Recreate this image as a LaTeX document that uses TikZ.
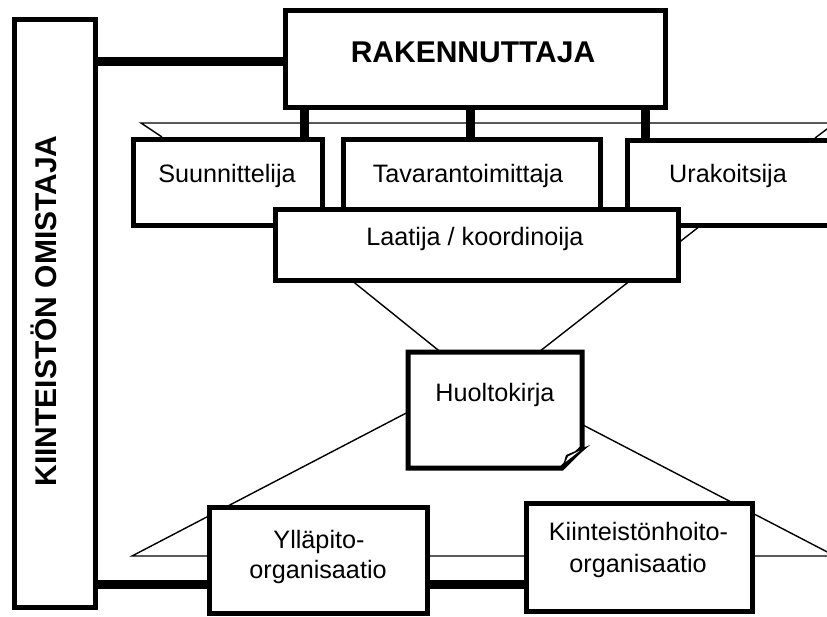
\documentclass[tikz,border=0pt]{standalone}
\usepackage{fontspec}
\setmainfont{Liberation Sans}
\begin{document}
\begin{tikzpicture}[x=1pt,y=-1pt,
  box/.style={draw, line width=5pt, fill=white, inner sep=0pt, outer sep=0pt, rectangle},
  thinline/.style={line width=1.4pt},
  bar/.style={line width=9pt},
  lbl/.style={font=\fontsize{25.2}{30}\selectfont, inner sep=0pt, anchor=base},
  blbl/.style={font=\bfseries\fontsize{30}{36}\selectfont, inner sep=0pt, anchor=base}]
\useasboundingbox (0,0) rectangle (827,616);
\clip (0,0) rectangle (827,616);
% background planes
\draw[thinline] (162,137) -- (141,123) -- (835,123) -- (815,138);
\draw[thinline] (284,226) -- (489,391) -- (700,226);
\draw[thinline] (132,556) -- (483,373) -- (835,556) -- cycle;
% boxes
\node[box, minimum width=81pt, minimum height=588pt] (own) at (54.5,313) {};
\node[box, minimum width=380pt, minimum height=97pt] (rak) at (475,58.5) {};
\node[box, minimum width=189pt, minimum height=86pt] (suun) at (227.5,182) {};
\node[box, minimum width=257pt, minimum height=86pt] (tava) at (471.5,182) {};
\node[box, minimum width=213pt, minimum height=85pt] (urak) at (733.5,182.5) {};
\node[box, minimum width=403pt, minimum height=71pt] (laat) at (476.5,244.5) {};
\node[box, minimum width=218pt, minimum height=106pt] (yll) at (318,560) {};
\node[box, minimum width=226pt, minimum height=108pt] (kiin) at (639,557) {};
% Huoltokirja (document with folded corner)
\draw[line width=5pt, fill=white] (408,352) -- (582,352) -- (582,448) -- (562,468) -- (408,468) -- cycle;
\fill (562,469) -- (566,455) -- (590,445) -- cycle;
\fill[white] (565.5,462) -- (568,456.5) -- (580,450.5) -- cycle;
% connectors
\coordinate (ya) at (0,61);
\coordinate (yb) at (0,584);
\coordinate (xa) at (304,0);
\coordinate (xb) at (470,0);
\coordinate (xc) at (645,0);
\draw[bar] (own.east |- ya) -- (rak.west |- ya);
\draw[bar] (rak.south -| xa) -- (suun.north -| xa);
\draw[bar] (rak.south -| xb) -- (tava.north -| xb);
\draw[bar] (rak.south -| xc) -- (urak.north -| xc);
\draw[bar] (own.east |- yb) -- (yll.west |- yb);
\draw[bar] (yll.east |- yb) -- (kiin.west |- yb);
% texts
\node[blbl, rotate=90] (owntxt) at (56,311) {KIINTEISTÖN OMISTAJA};
\node[blbl] (raktxt) at (473,62) {RAKENNUTTAJA};
\node[lbl] (suuntxt) at (227,182) {Suunnittelija};
\node[lbl] (tavatxt) at (468,182) {Tavarantoimittaja};
\node[lbl] (uraktxt) at (728,182) {Urakoitsija};
\node[lbl] (laattxt) at (475,245) {Laatija / koordinoija};
\node[lbl] (huol) at (495,401) {Huoltokirja};
\node[lbl] (ylltxta) at (319,548) {Ylläpito-};
\node[lbl] (ylltxtb) at (318,578) {organisaatio};
\node[lbl] (kiintxta) at (638.5,540) {Kiinteistönhoito-};
\node[lbl] (kiintxtb) at (638,572) {organisaatio};
\end{tikzpicture}
\end{document}
